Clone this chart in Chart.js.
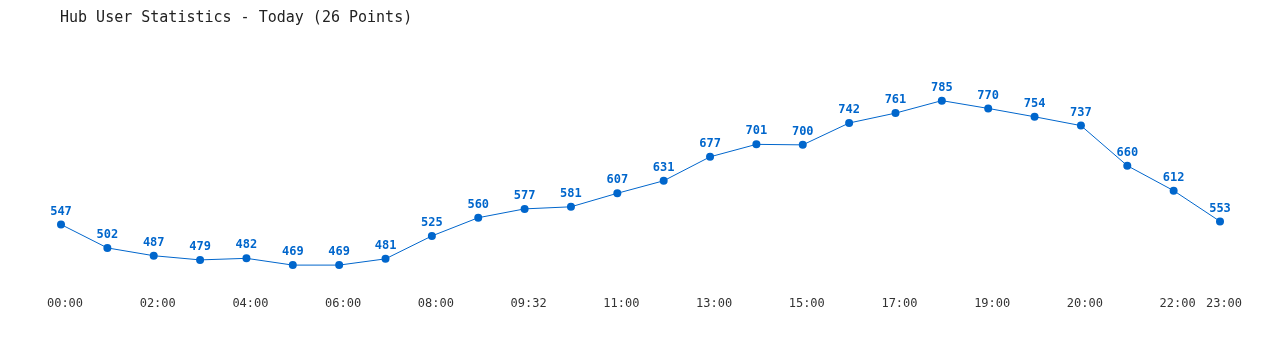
<!DOCTYPE html>
<html><head><meta charset="utf-8">
<script src="https://cdn.jsdelivr.net/npm/chart.js@4/dist/chart.umd.min.js"></script>
<style>html,body{margin:0;padding:0;background:#fff;}#wrap{width:1280px;height:350px;position:relative;}</style>
</head><body><div id="wrap"><canvas id="c" width="1280" height="350"></canvas></div>
<script>
const chartTitle = "Hub User Statistics - Today (26 Points)";
const timeLabels = ["00:00","01:00","02:00","03:00","04:00","05:00","06:00","07:00","08:00","09:00","09:32","10:00","11:00","12:00","13:00","14:00","15:00","16:00","17:00","18:00","19:00","19:30","20:00","21:00","22:00","23:00"];
const userCounts = [547,502,487,479,482,469,469,481,525,560,577,581,607,631,677,701,700,742,761,785,770,754,737,660,612,553];
const yMin = 420, yMax = 840;

const lineColor = "#0066cc";
const mono = "'DejaVu Sans Mono', 'Liberation Mono', monospace";

const overlay = {
  id: 'overlay',
  afterDraw(chart) {
    const ctx = chart.ctx;
    ctx.save();
    ctx.fillStyle = '#222';
    ctx.font = "15px " + mono;
    ctx.textAlign = 'left';
    ctx.textBaseline = 'middle';
    ctx.fillText(chartTitle, 60, 18);
    const meta = chart.getDatasetMeta(0);
    ctx.fillStyle = lineColor;
    ctx.font = "bold 12px " + mono;
    ctx.textAlign = 'center';
    meta.data.forEach((pt, i) => {
      ctx.fillText(String(userCounts[i]), pt.x, pt.y - 13);
    });
    ctx.restore();
  }
};

new Chart(document.getElementById('c'), {
  type: 'line',
  data: {
    labels: timeLabels,
    datasets: [{
      data: userCounts,
      borderColor: lineColor,
      backgroundColor: lineColor,
      borderWidth: 1,
      pointRadius: 4,
      pointHoverRadius: 4,
      pointBorderWidth: 0,
      tension: 0,
      fill: false
    }]
  },
  options: {
    responsive: false,
    animation: false,
    layout: { padding: { left: 61, right: 60, top: 72, bottom: 33 } },
    plugins: { legend: { display: false }, title: { display: false }, tooltip: { enabled: false } },
    scales: {
      x: {
        offset: false,
        grid: { display: false, drawTicks: false },
        border: { display: false },
        ticks: {
          autoSkip: false,
          maxRotation: 0,
          minRotation: 0,
          padding: 6,
          labelOffset: 4,
          color: '#333',
          font: { family: mono, size: 12 },
          callback: function(v, i) {
            return (i % 2 === 0 || i === timeLabels.length - 1) ? timeLabels[i] : '';
          }
        }
      },
      y: { display: false, min: yMin, max: yMax }
    }
  },
  plugins: [overlay]
});
</script></body></html>
